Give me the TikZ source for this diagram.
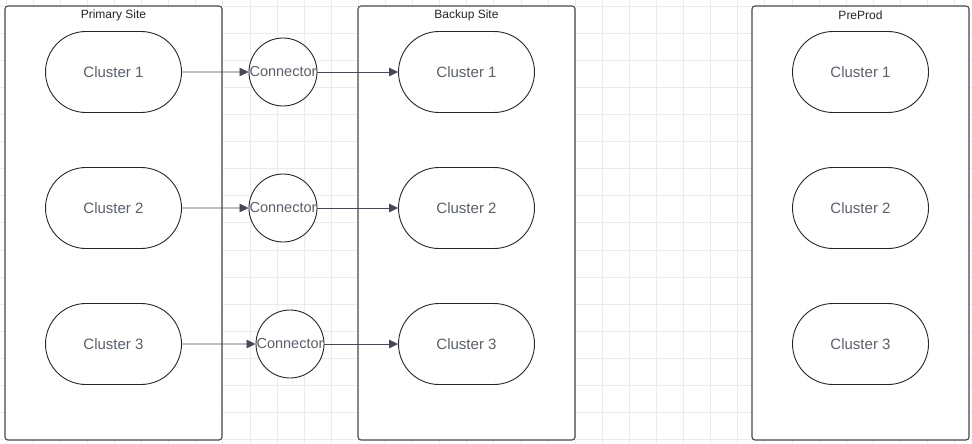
\documentclass[tikz,border=0pt]{standalone}
\usepackage{fontspec}
\setsansfont{Liberation Sans}
\usepackage{xcolor}
\usetikzlibrary{shapes.misc, arrows.meta, positioning}

\definecolor{gridgray}{HTML}{EBEBEB}
\definecolor{framegray}{HTML}{45474D}
\definecolor{linegray}{HTML}{262626}
\definecolor{textgray}{HTML}{5A606B}
\definecolor{arrowgray}{HTML}{444A55}

\begin{document}
\begin{tikzpicture}[
  x=1pt, y=-1pt,
  font=\sffamily,
  site/.style={
    rectangle, rounded corners=3pt, draw=framegray, fill=white,
    line width=1.1pt, minimum width=217pt, minimum height=434pt, inner sep=0pt
  },
  sitename/.style={font=\fontsize{12}{14}\selectfont\sffamily, text=black!85},
  cluster/.style={
    rounded rectangle, draw=linegray, fill=white, line width=0.9pt,
    minimum width=136pt, minimum height=81pt, inner sep=0pt,
    font=\fontsize{15}{18}\selectfont\sffamily, text=textgray
  },
  conn/.style={
    circle, draw=linegray, fill=white, line width=0.9pt,
    minimum size=68pt, inner sep=0pt,
    font=\fontsize{14.5}{17}\selectfont\sffamily, text=textgray
  },
  arr/.style={-{Triangle[length=9pt,width=8.5pt]}, line width=0.8pt, color=arrowgray},
  gridline/.style={color=gridgray, line width=0.5pt},
]
\useasboundingbox (0,0) rectangle (972,444);
%% Grid
\foreach \i in {0,...,35} \draw[gridline] (5.9+27.1*\i,0) -- (5.9+27.1*\i,444);
\foreach \j in {0,...,16} \draw[gridline] (0,5.9+27.1*\j) -- (972,5.9+27.1*\j);
%% Sites
\node[site] (PS) at (113.5,223) {};
\node[site] (BS) at (466.5,223) {};
\node[site] (PP) at (860.5,223) {};
\node[sitename] (PSname) at (113.5,15) {Primary Site};
\node[sitename] (BSname) at (466.5,15) {Backup Site};
\node[sitename] (PPname) at (860.5,15) {PreProd};
%% Clusters
\node[cluster] (P1) at (113.5,72) {Cluster 1};
\node[cluster, below=54.1pt of P1] (P2) {Cluster 2};
\node[cluster, below=54.1pt of P2] (P3) {Cluster 3};
\node[cluster] (B1) at (466.5,72) {Cluster 1};
\node[cluster, below=54.1pt of B1] (B2) {Cluster 2};
\node[cluster, below=54.1pt of B2] (B3) {Cluster 3};
\node[cluster] (R1) at (860.5,72) {Cluster 1};
\node[cluster, below=54.1pt of R1] (R2) {Cluster 2};
\node[cluster, below=54.1pt of R2] (R3) {Cluster 3};
%% Connectors
\node[conn] (K1) at (283,72)  {Connector};
\node[conn] (K2) at (283,208) {Connector};
\node[conn] (K3) at (290,344) {Connector};
%% Arrows
\draw[arr] (P1) -- (K1); \draw[arr] (K1) -- (B1);
\draw[arr] (P2) -- (K2); \draw[arr] (K2) -- (B2);
\draw[arr] (P3) -- (K3); \draw[arr] (K3) -- (B3);
\end{tikzpicture}
\end{document}
